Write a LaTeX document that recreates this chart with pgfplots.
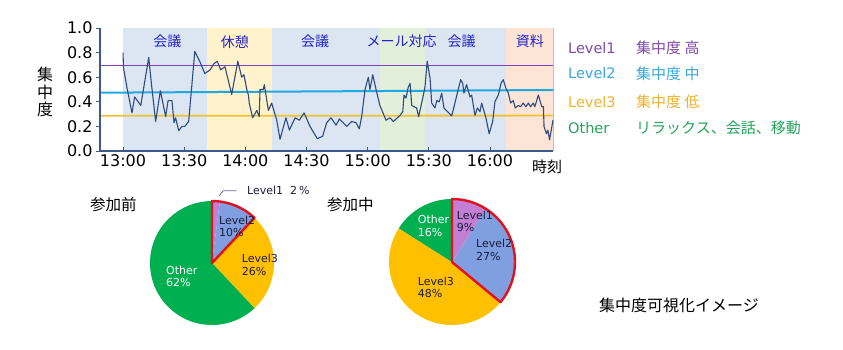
\documentclass[border=0pt]{standalone}
\usepackage{fontspec}
\setmainfont{DejaVu Sans}
\newfontfamily\jp{Noto Sans CJK JP}
\usepackage{pgfplots}
\usepackage{pgfplotstable}
\pgfplotsset{compat=1.18}

\definecolor{bandB}{HTML}{DCE6F2}
\definecolor{bandY}{HTML}{FFF2CC}
\definecolor{bandG}{HTML}{E2EFDA}
\definecolor{bandP}{HTML}{FCE4D6}
\definecolor{navy}{HTML}{2F4B7C}
\definecolor{axnavy}{HTML}{3A5A8C}
\definecolor{lvone}{HTML}{8244B4}
\definecolor{lvtwo}{HTML}{1FA9E1}
\definecolor{lvthree}{HTML}{F2C230}
\definecolor{lv1t}{HTML}{7F4BA6}
\definecolor{lv2t}{HTML}{38A8DA}
\definecolor{lv3t}{HTML}{EDB22E}
\definecolor{othert}{HTML}{23A35A}
\definecolor{bandtext}{HTML}{2323C8}
\definecolor{p1}{HTML}{C27FD4}
\definecolor{p2}{HTML}{7F9FE0}
\definecolor{p3}{HTML}{FFC000}
\definecolor{p4}{HTML}{00B050}
\definecolor{pred}{HTML}{E3101E}
\definecolor{labdark}{HTML}{1C1C3C}

% time in minutes after 13:00, concentration
\pgfplotstableread{
t v
0 0.80
0.2 0.68
2.1 0.50
4.4 0.31
5.7 0.44
8.7 0.37
12.6 0.76
13.9 0.55
16.0 0.24
18.3 0.49
20.9 0.28
22.1 0.41
24.0 0.41
25.0 0.23
25.8 0.27
27.3 0.165
28.9 0.20
30.3 0.20
32.2 0.24
35.2 0.81
37.6 0.73
40.1 0.63
42.7 0.66
44.6 0.71
46.2 0.73
47.9 0.66
50.0 0.685
53.3 0.46
56.3 0.73
58.2 0.60
59.3 0.62
60.7 0.50
61.5 0.455
61.9 0.39
63.6 0.27
65.6 0.33
66.8 0.28
67.2 0.50
68.8 0.50
69.3 0.54
71.3 0.33
72.9 0.39
75.4 0.25
77.0 0.095
79.9 0.27
81.6 0.17
84.4 0.27
86.5 0.25
88.8 0.31
91.7 0.20
95.3 0.10
97.9 0.12
99.9 0.23
102.0 0.27
104.5 0.21
106.1 0.26
109.7 0.20
112.2 0.24
114.3 0.23
115.9 0.18
117.1 0.285
118.7 0.50
120.3 0.60
121.1 0.50
122.5 0.62
124.1 0.50
126.0 0.37
129.0 0.25
130.9 0.27
132.6 0.24
135.9 0.29
137.2 0.32
137.8 0.455
138.8 0.43
139.9 0.52
140.8 0.55
141.6 0.37
144.0 0.35
145.0 0.28
147.0 0.43
148.1 0.52
149.2 0.73
150.6 0.59
151.4 0.39
153.0 0.35
153.9 0.41
155.1 0.40
156.3 0.47
157.4 0.35
161.2 0.285
162.8 0.39
164.4 0.50
165.6 0.58
166.6 0.55
167.2 0.47
168.5 0.54
170.2 0.44
171.0 0.455
172.6 0.29
173.8 0.35
175.1 0.32
175.9 0.39
178.0 0.27
179.6 0.14
181.3 0.24
182.4 0.40
184.1 0.455
185.4 0.55
186.5 0.58
187.8 0.51
189.0 0.47
190.1 0.39
191.4 0.41
192.4 0.35
193.9 0.37
195.0 0.36
196.3 0.39
197.6 0.36
198.8 0.39
199.9 0.36
201.2 0.39
202.0 0.36
203.7 0.455
205.4 0.36
206.2 0.36
206.5 0.20
207.7 0.14
208.4 0.17
209.2 0.09
210.9 0.25
}\focusdata

\newcommand{\pieslice}[4]{\fill[#3] (axis cs:0,0) -- ++({90-3.6*(#1)}:#4) arc[start angle={90-3.6*(#1)}, end angle={90-3.6*(#2)}, radius=#4] -- cycle;}

\begin{document}
\begin{tikzpicture}[x=1pt,y=1pt]
\useasboundingbox (0pt,0pt) rectangle (843pt,349pt);

\begin{axis}[
  at={(100pt,198pt)}, anchor=south west, scale only axis,
  width=453pt, height=123pt,
  xmin=-11.3, xmax=210.9, ymin=0, ymax=1,
  axis x line*=bottom, axis y line*=left,
  axis line style={axnavy, line width=1.2pt, -},
  xtick={0,30,60,90,120,150,180},
  xticklabels={13:00,13:30,14:00,14:30,15:00,15:30,16:00},
  ytick={0,0.2,0.4,0.6,0.8,1.0},
  yticklabel style={/pgf/number format/.cd, fixed, fixed zerofill, precision=1},
  /pgf/number format/assume math mode=true,
  xtick align=inside, ytick align=outside,
  major tick length=4pt,
  tick style={axnavy, line width=0.8pt},
  ticklabel style={font=\fontsize{16}{16}\selectfont, text=black},
  axis on top,
  clip=false,
]
\addplot[draw=none, fill=bandB] coordinates {(0,1) (41.2,1)} \closedcycle;
\addplot[draw=none, fill=bandY] coordinates {(41.2,1) (73.1,1)} \closedcycle;
\addplot[draw=none, fill=bandB] coordinates {(73.1,1) (126.0,1)} \closedcycle;
\addplot[draw=none, fill=bandG] coordinates {(126.0,1) (148.1,1)} \closedcycle;
\addplot[draw=none, fill=bandB] coordinates {(148.1,1) (187.8,1)} \closedcycle;
\addplot[draw=none, fill=bandP] coordinates {(187.8,1) (210.9,1)} \closedcycle;
\draw[gray!50, line width=0.5pt] (axis cs:210.9,0) -- (axis cs:210.9,1);

\addplot[color=lvone, line width=1.7pt] coordinates {(-11.3,0.694) (210.9,0.694)};
\addplot[color=lvtwo, line width=2pt] coordinates {(-11.3,0.474) (210.9,0.496)};
\addplot[color=lvthree, line width=1.8pt] coordinates {(-11.3,0.286) (210.9,0.288)};

\addplot[color=navy, line width=1.1pt, line join=round] table[x=t, y=v] {\focusdata};

\begin{scope}[font=\jp\fontsize{14}{14}\selectfont, text=bandtext]
\node at (axis cs:21.7,0.889) {会議};
\node at (axis cs:54.9,0.889) {休憩};
\node at (axis cs:94.2,0.889) {会議};
\node at (axis cs:136.7,0.889) {メール対応};
\node at (axis cs:166.1,0.889) {会議};
\node at (axis cs:199.6,0.889) {資料};
\end{scope}
\end{axis}

% axis titles
\node[font=\jp\fontsize{16}{17.5}\selectfont, align=center] at (45pt,257pt) {集\\中\\度};
\node[font=\jp\fontsize{15}{15}\selectfont] at (547pt,182pt) {時刻};

% legend text
\begin{scope}[font=\fontsize{14.5}{14.5}\selectfont]
\node[anchor=west, text=lv1t, inner sep=0] at (568pt,300.7pt) {Level1};
\node[anchor=west, text=lv1t, inner sep=0, font=\jp\fontsize{15}{15}\selectfont] at (636pt,300.7pt) {集中度 高};
\node[anchor=west, text=lv2t, inner sep=0] at (568pt,275.7pt) {Level2};
\node[anchor=west, text=lv2t, inner sep=0, font=\jp\fontsize{15}{15}\selectfont] at (636pt,275.7pt) {集中度 中};
\node[anchor=west, text=lv3t, inner sep=0] at (568pt,247.3pt) {Level3};
\node[anchor=west, text=lv3t, inner sep=0, font=\jp\fontsize{15}{15}\selectfont] at (636pt,247.3pt) {集中度 低};
\node[anchor=west, text=othert, inner sep=0] at (568pt,220.7pt) {Other};
\node[anchor=west, text=othert, inner sep=0, font=\jp\fontsize{15}{15}\selectfont] at (636pt,220.7pt) {リラックス、会話、移動};
\end{scope}

% pie before
\begin{axis}[at={(212pt,86pt)}, anchor=center, scale only axis, width=124pt, height=124pt,
  xmin=-1, xmax=1, ymin=-1, ymax=1, hide axis, clip=false]
\addplot[draw=none] coordinates {(0,0)};
\pieslice{0}{2}{p1}{62pt}
\pieslice{2}{12}{p2}{62pt}
\pieslice{12}{38}{p3}{62pt}
\pieslice{38}{100}{p4}{62pt}
\draw[pred, line width=2.4pt, line join=round] (axis cs:0,0) -- ++(90:62pt) arc[start angle=90, end angle={90-3.6*12}, radius=62pt] -- cycle;
\end{axis}

% pie during
\begin{axis}[at={(452pt,87pt)}, anchor=center, scale only axis, width=126pt, height=126pt,
  xmin=-1, xmax=1, ymin=-1, ymax=1, hide axis, clip=false]
\addplot[draw=none] coordinates {(0,0)};
\pieslice{0}{9}{p1}{63pt}
\pieslice{9}{36}{p2}{63pt}
\pieslice{36}{84}{p3}{63pt}
\pieslice{84}{100}{p4}{63pt}
\draw[pred, line width=2.4pt, line join=round] (axis cs:0,0) -- ++(90:63pt) arc[start angle=90, end angle={90-3.6*36}, radius=63pt] -- cycle;
\end{axis}

% pie titles
\node[anchor=west, inner sep=0, font=\jp\fontsize{15.5}{15.5}\selectfont] at (90pt,144pt) {参加前};
\node[anchor=west, inner sep=0, font=\jp\fontsize{15.5}{15.5}\selectfont] at (327pt,144pt) {参加中};

% pie labels
\begin{scope}[font=\fontsize{11}{12.7}\selectfont]
\node[anchor=west, align=left, inner sep=0, text=labdark] at (219pt,122.6pt) {Level2\\10\%};
\node[anchor=west, align=left, inner sep=0, text=labdark] at (241.7pt,84.3pt) {Level3\\26\%};
\node[anchor=west, align=left, inner sep=0, text=white] at (166pt,72.7pt) {Other\\62\%};
\node[anchor=west, inner sep=0, text=labdark] at (247pt,159pt) {Level1\ \ 2\,\%};
\draw[gray!80!blue, line width=0.7pt] (219.3pt,153.3pt) -- (223.3pt,158.3pt) -- (236.7pt,158.3pt);

\node[anchor=west, align=left, inner sep=0, text=labdark] at (456.7pt,127.5pt) {Level1\\9\%};
\node[anchor=west, align=left, inner sep=0, text=labdark] at (476pt,99pt) {Level2\\27\%};
\node[anchor=west, align=left, inner sep=0, text=labdark] at (417.7pt,61.5pt) {Level3\\48\%};
\node[anchor=west, align=left, inner sep=0, text=white] at (417.7pt,123pt) {Other\\16\%};
\end{scope}

\node[anchor=west, inner sep=0, font=\jp\fontsize{16}{16}\selectfont] at (599pt,44pt) {集中度可視化イメージ};
\end{tikzpicture}
\end{document}
